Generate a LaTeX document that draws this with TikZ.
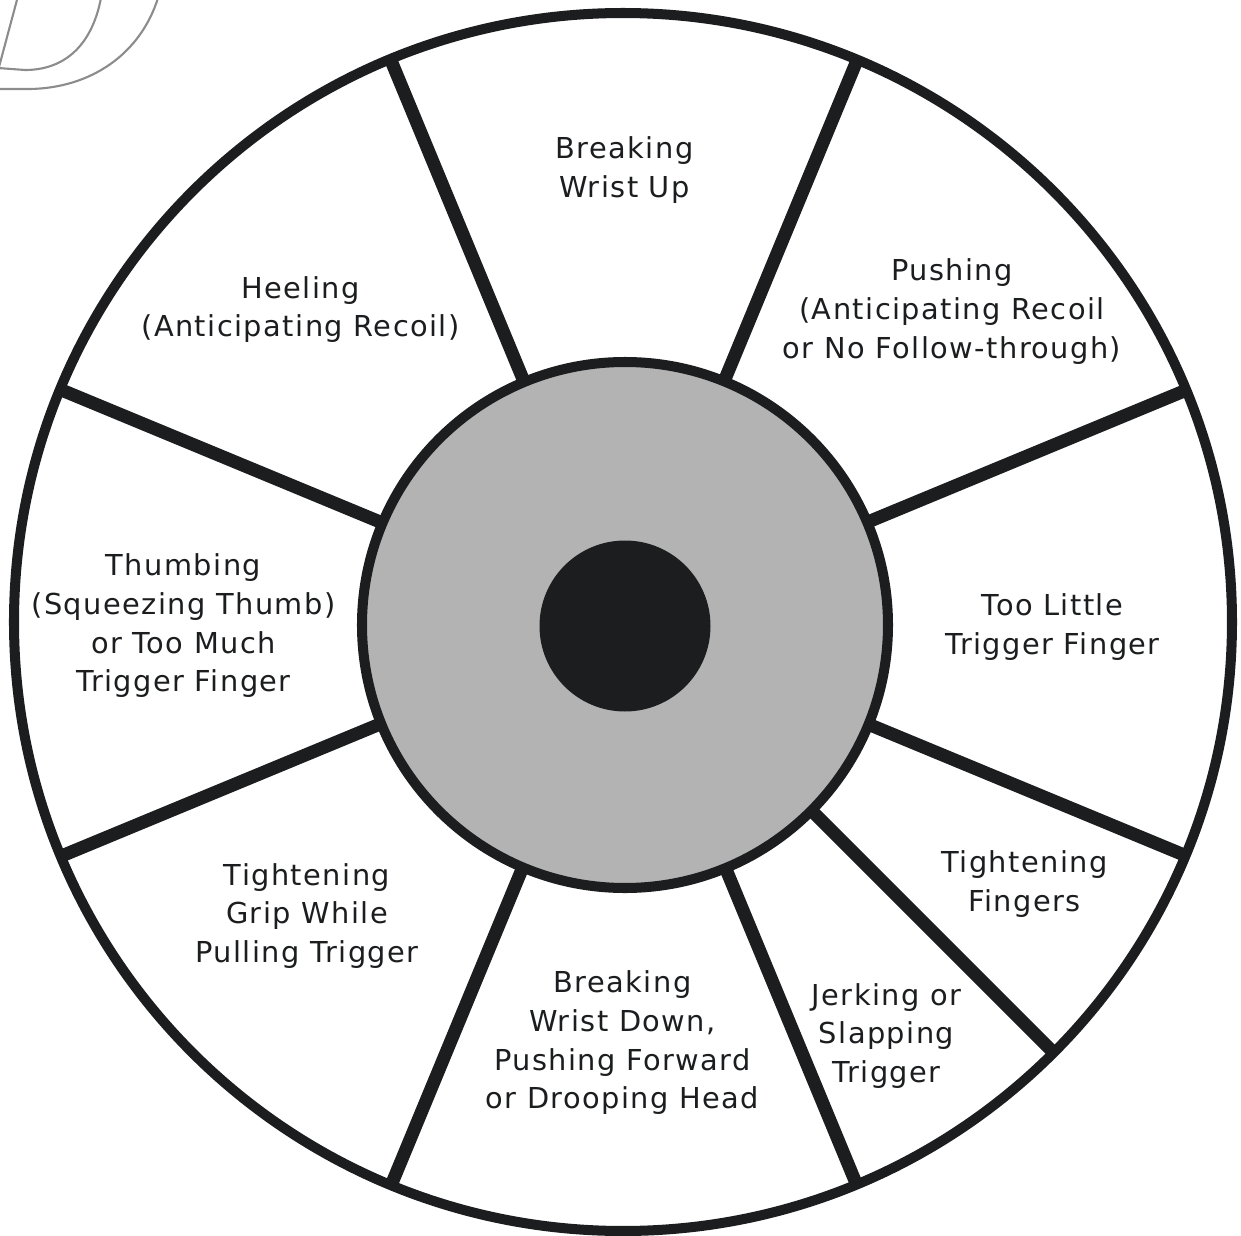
\documentclass[tikz,border=0pt]{standalone}
\usepackage{fontspec}
\setmainfont{DejaVu Sans}[LetterSpace=5]
\definecolor{ink}{HTML}{1B1D1F}
\definecolor{ringgray}{HTML}{B3B3B3}
\definecolor{decogray}{HTML}{8C8C8C}
\begin{document}
\begin{tikzpicture}[x=0.01cm,y=-0.01cm,
  lbl/.style={align=center,font=\fontsize{8.2pt}{11pt}\selectfont,text=ink,inner sep=0pt},
  spoke/.style={line width=3.7pt,draw=ink},
  rim/.style={line width=2.85pt,draw=ink},
  deco/.style={line width=0.6pt,draw=decogray}]
\useasboundingbox (0,0) rectangle (1241,1236);
% decorative corner outline
\begin{scope}
  \clip (0,0) rectangle (1241,1236);
  \draw[deco] (17.5,-2) -- (-1,67);
  \draw[deco] (101,-2) .. controls (92,45) and (65,70) .. (25,70) -- (-2,68);
  \draw[deco] (158,-2) .. controls (140,55) and (90,88) .. (30,89) -- (-2,89);
\end{scope}
\coordinate (C) at (624,623);
% spokes
\foreach \a in {-112.5,-67.5,-22.5,22.5,45,67.5,112.5,157.5,-157.5}
  \draw[spoke,shift={(C)}] (\a:240) -- (\a:609);
% outer rim
\draw[rim] (623,622) circle[radius=609];
% hub
\draw[rim,fill=ringgray] (625,625) circle[radius=263];
\fill[ink] (625,626) circle[radius=85.5];
% labels
\node[lbl] (t1) at (624.5,170) {Breaking\\Wrist Up};
\node[lbl] (t2) at (300.5,309.5) {Heeling\\(Anticipating Recoil)};
\node[lbl] (t3) at (952,311.5) {Pushing\\(Anticipating Recoil\\or No Follow-through)};
\node[lbl] (t4) at (1052.5,627) {Too Little\\Trigger Finger};
\node[lbl] (t5) at (183.5,626) {Thumbing\\(Squeezing Thumb)\\or Too Much\\Trigger Finger};
\node[lbl] (t6) at (307,916) {Tightening\\Grip While\\Pulling Trigger};
\node[lbl] (t7) at (622.5,1043) {Breaking\\Wrist Down,\\Pushing Forward\\or Drooping Head};
\node[lbl] (t8) at (886.5,1036) {Jerking or\\Slapping\\Trigger};
\node[lbl] (t9) at (1024.5,884) {Tightening\\Fingers};
\end{tikzpicture}
\end{document}
